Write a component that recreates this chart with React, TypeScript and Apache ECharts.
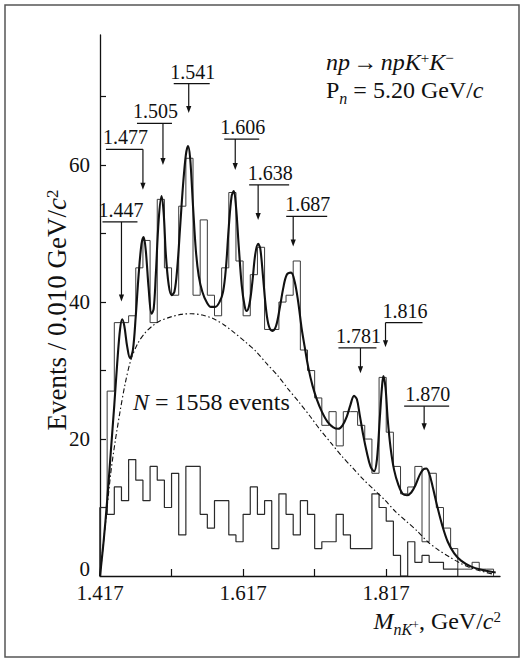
import React, { useEffect, useRef } from "react";
import * as echarts from "echarts";

// Mass axis, GeV/c^2
const MASS_MIN = 1.417;
const MASS_MAX = 1.976;
const BIN_WIDTH = 0.01;

// Events per 0.010 GeV/c^2 bin, first bin starts at MASS_MIN
const allEvents = [
  10, 27, 37, 37, 38, 45, 49, 37, 55, 45, 41, 54, 61, 41, 52, 41, 38, 45, 56, 46,
  38, 44, 48, 36, 36, 40, 41, 46, 33, 30, 26, 22, 24, 19, 24, 24, 22, 20, 15, 29,
  21, 16, 12, 13, 16, 5, 15, 10, 7, 4, 1, 1, 2, 1, 1,
];
const subsetEvents = [
  10, 9, 13, 11, 17, 14, 11, 16, 14, 10, 15, 6, 16, 16, 9, 7, 11, 11, 6, 5,
  9, 13, 9, 11, 4, 12, 9, 6, 11, 9, 4, 5, 5, 9, 6, 4, 4, 4, 12, 10,
  8, 3, 0, 5, 2, 3, 2, 2, 1, 1,
];

// Fitted spectrum (resonances + background)
const fitMass = [
  1.417, 1.422, 1.427, 1.432, 1.437, 1.441, 1.445, 1.448, 1.451, 1.455, 1.459, 1.463,
  1.467, 1.471, 1.475, 1.478, 1.481, 1.485, 1.489, 1.492, 1.495, 1.499, 1.503, 1.506,
  1.509, 1.513, 1.517, 1.521, 1.525, 1.529, 1.533, 1.537, 1.54, 1.543, 1.547, 1.551,
  1.555, 1.56, 1.566, 1.572, 1.578, 1.584, 1.589, 1.593, 1.597, 1.601, 1.604, 1.607,
  1.611, 1.615, 1.619, 1.622, 1.626, 1.63, 1.634, 1.638, 1.641, 1.645, 1.649, 1.653,
  1.658, 1.663, 1.668, 1.673, 1.678, 1.684, 1.689, 1.694, 1.699, 1.703, 1.708, 1.714,
  1.72, 1.727, 1.735, 1.743, 1.75, 1.756, 1.762, 1.767, 1.772, 1.776, 1.78, 1.785,
  1.79, 1.795, 1.8, 1.804, 1.808, 1.811, 1.813, 1.816, 1.819, 1.823, 1.828, 1.834,
  1.84, 1.846, 1.852, 1.858, 1.864, 1.869, 1.873, 1.877, 1.882, 1.888, 1.895, 1.903,
  1.912, 1.922, 1.935, 1.95, 1.97,
];
const fitEvents = [
  0, 5, 11, 18, 25, 31, 36, 37.5, 36.5, 33.5, 31.8, 33,
  38, 44, 48.5, 49.5, 47.5, 42, 38.3, 39, 44, 52, 55.5, 53,
  47, 42.5, 41, 41.5, 45, 51, 57, 61.5, 62.8, 61, 54, 47.5,
  43.8, 41.5, 40, 39.3, 39.3, 40, 41.5, 45, 51, 55.5, 56.2, 54,
  48, 42.5, 39.5, 38.7, 39.8, 43, 47, 48.5, 47.8, 43.5, 39, 36.5,
  35.8, 36.5, 39, 42, 44, 44.3, 43, 40, 36, 33.5, 30.5, 27.8,
  25.8, 24, 22.5, 21.7, 21.5, 22, 23.3, 25, 26.3, 25.8, 23.5, 20.5,
  18, 16, 15.3, 17, 23, 27.5, 29.2, 27.5, 23, 18.8, 15.5, 13.3,
  12, 11.8, 12.2, 13.3, 14.8, 15.6, 15.7, 15, 13, 10.3, 7.5, 5,
  3.3, 2.2, 1.4, 0.9, 0.5,
];

// Non-resonant background
const bgMass = [
  1.417, 1.425, 1.432, 1.438, 1.445, 1.452, 1.46, 1.47, 1.48, 1.49, 1.5, 1.515,
  1.53, 1.545, 1.56, 1.575, 1.59, 1.605, 1.62, 1.635, 1.65, 1.665, 1.68, 1.695,
  1.71, 1.725, 1.74, 1.755, 1.77, 1.785, 1.8, 1.815, 1.83, 1.845, 1.86, 1.875,
  1.89, 1.905, 1.92, 1.935, 1.95, 1.965,
];
const bgEvents = [
  0, 8, 15, 19.5, 24, 28, 31.5, 34, 35.5, 36.5, 37.2, 37.8,
  38.2, 38.3, 38.1, 37.6, 36.7, 35.5, 34.2, 32.8, 31, 29.3, 27.3, 25.4,
  23.4, 21.3, 19.4, 17.5, 15.8, 14.1, 12.6, 11.1, 9.4, 8, 6.6, 5,
  3.8, 2.8, 1.9, 1.2, 0.7, 0.3,
];

// Resonance candidates marked with arrows
const peakMasses = [1.447, 1.477, 1.505, 1.541, 1.606, 1.638, 1.687, 1.781, 1.816, 1.87];

// Axis ticks
const xTickMasses = [1.417, 1.517, 1.617, 1.717, 1.817];
const xLabelMasses = [1.417, 1.617, 1.817];
const yTickValues = [10, 20, 30, 40, 50, 60, 70];
const yLabelValues = [0, 20, 40, 60];

// Callout geometry: bar / tip heights in events, bar extent in px relative to the arrow
const calloutLayout = [
  { bar: 51.7, tip: 40.1, left: -19, right: 16 },
  { bar: 62.3, tip: 56.4, left: -37, right: 0 },
  { bar: 66.1, tip: 60.0, left: -26, right: 9 },
  { bar: 71.9, tip: 67.6, left: -15, right: 21 },
  { bar: 63.8, tip: 59.3, left: -11, right: 24 },
  { bar: 57.1, tip: 52.0, left: -9, right: 31 },
  { bar: 52.5, tip: 48.1, left: -7, right: 34 },
  { bar: 33.3, tip: 29.6, left: -22, right: 16 },
  { bar: 37.0, tip: 33.4, left: 0, right: 37 },
  { bar: 24.8, tip: 21.3, left: -20, right: 25 },
];

const SERIF = "'Liberation Serif', 'DejaVu Serif', serif";
const INK = "#111";
const ZERO_LABEL_LIFT = 1; // the "0" label sits just above the baseline

const off = (m: number) => +(m - MASS_MIN).toFixed(4);

function histogramOutline(values: number[]): [number, number][] {
  const pts: [number, number][] = [[0, 0]];
  values.forEach((v, i) => {
    pts.push([+(i * BIN_WIDTH).toFixed(4), v], [+((i + 1) * BIN_WIDTH).toFixed(4), v]);
  });
  pts.push([+(values.length * BIN_WIDTH).toFixed(4), 0]);
  return pts;
}

function rich(size: number) {
  return {
    n: { fontFamily: SERIF, fontSize: size, fill: INK, verticalAlign: "top", lineHeight: size },
    i: { fontFamily: SERIF, fontSize: size, fontStyle: "italic", fill: INK, verticalAlign: "top", lineHeight: size },
    sup: { fontFamily: SERIF, fontSize: Math.round(size * 0.62), fill: INK, verticalAlign: "top", lineHeight: Math.round(size * 0.62) },
    isub: {
      fontFamily: SERIF, fontSize: Math.round(size * 0.68), fontStyle: "italic", fill: INK,
      verticalAlign: "top", lineHeight: Math.round(size * 0.68), padding: [Math.round(size * 0.52), 0, 0, 0],
    },
    isubsup: {
      fontFamily: SERIF, fontSize: Math.round(size * 0.5), fill: INK,
      verticalAlign: "top", lineHeight: Math.round(size * 0.5), padding: [Math.round(size * 0.4), 0, 0, 0],
    },
  };
}

export default function App() {
  const ref = useRef<HTMLDivElement>(null);

  useEffect(() => {
    if (!ref.current) return;
    const chart = echarts.init(ref.current, undefined, { renderer: "svg" });

    const option: any = {
      animation: false,
      backgroundColor: "#fff",
      grid: { left: 100, right: 24, top: 35, bottom: 86 },
      xAxis: {
        type: "value",
        min: 0,
        max: off(MASS_MAX),
        axisLine: { lineStyle: { color: INK, width: 1.3 } },
        axisTick: {
          inside: true,
          length: 7,
          lineStyle: { color: INK, width: 1.2 },
          customValues: xTickMasses.map(off),
        },
        axisLabel: {
          customValues: xLabelMasses.map(off),
          formatter: (v: number) => (MASS_MIN + v).toFixed(3),
          fontFamily: SERIF,
          fontSize: 21,
          lineHeight: 16,
          color: INK,
          margin: 9,
        },
        splitLine: { show: false },
      },
      yAxis: {
        type: "value",
        min: 0,
        max: 79,
        axisLine: { show: true, lineStyle: { color: INK, width: 1.3 } },
        axisTick: {
          show: true,
          inside: true,
          length: 6,
          lineStyle: { color: INK, width: 1.2 },
          customValues: yTickValues,
        },
        axisLabel: {
          customValues: yLabelValues.map((v) => (v === 0 ? ZERO_LABEL_LIFT : v)),
          formatter: (v: number) => (v === ZERO_LABEL_LIFT ? "0" : String(v)),
          fontFamily: SERIF,
          fontSize: 21,
          lineHeight: 16,
          color: INK,
          margin: 10,
        },
        splitLine: { show: false },
      },
      series: [
        {
          type: "line",
          name: "all",
          data: histogramOutline(allEvents),
          showSymbol: false,
          lineStyle: { color: "#3a3a3a", width: 1 },
          z: 2,
        },
        {
          type: "line",
          name: "subset",
          data: histogramOutline(subsetEvents),
          showSymbol: false,
          lineStyle: { color: "#2a2a2a", width: 1.2 },
          z: 2,
        },
        {
          type: "line",
          name: "background",
          data: bgMass.map((m, i) => [off(m), bgEvents[i]]),
          showSymbol: false,
          smooth: 0.3,
          lineStyle: { color: INK, width: 1.1, type: [5, 2.5, 1.5, 2.5] },
          z: 3,
        },
        {
          type: "line",
          name: "fit",
          data: fitMass.map((m, i) => [off(m), fitEvents[i]]),
          showSymbol: false,
          smooth: 0.35,
          lineStyle: { color: INK, width: 2.1 },
          z: 4,
        },
        {
          type: "custom",
          name: "callouts",
          coordinateSystem: "cartesian2d",
          data: peakMasses.map((m) => [off(m), 0]),
          clip: false,
          z: 5,
          renderItem: (params: any, api: any) => {
            const k = params.dataIndex;
            const lay = calloutLayout[k];
            const xv = api.value(0);
            const [x, yBar] = api.coord([xv, lay.bar]);
            const [, yTip] = api.coord([xv, lay.tip]);
            const stroke = { stroke: INK, lineWidth: 1.2 };
            return {
              type: "group",
              children: [
                { type: "line", shape: { x1: x + lay.left, y1: yBar, x2: x + lay.right, y2: yBar }, style: stroke },
                { type: "line", shape: { x1: x, y1: yBar, x2: x, y2: yTip - 5 }, style: stroke },
                {
                  type: "polygon",
                  shape: { points: [[x - 2.6, yTip - 7], [x + 2.6, yTip - 7], [x, yTip]] },
                  style: { fill: INK },
                },
                {
                  type: "text",
                  x: x + (lay.left + lay.right) / 2 + 1,
                  y: yBar - 2,
                  style: {
                    text: peakMasses[k].toFixed(3),
                    fontFamily: SERIF,
                    fontSize: 20,
                    fill: INK,
                    align: "center",
                    verticalAlign: "bottom",
                  },
                },
              ],
            };
          },
        },
      ],
      graphic: [
        {
          type: "rect",
          shape: { x: 5, y: 5, width: 514, height: 652 },
          style: { fill: "none", stroke: "#555", lineWidth: 1.5 },
          silent: true,
        },
        {
          type: "text",
          x: 326,
          y: 50,
          style: { text: "{i|np} {n|→} {i|npK}{sup|+}{i|K}{sup|−}", rich: rich(24) },
        },
        {
          type: "text",
          x: 326,
          y: 78,
          style: { text: "{n|P}{isub|n}{n| = 5.20 GeV/}{i|c}", rich: rich(24) },
        },
        {
          type: "text",
          x: 133,
          y: 390,
          style: { text: "{i|N}{n| = 1558 events}", rich: rich(24) },
        },
        {
          type: "text",
          x: 57,
          y: 310,
          rotation: Math.PI / 2,
          style: {
            text: "{n|Events / 0.010 GeV/}{i|c}{sup|2}",
            rich: rich(27),
            align: "center",
            verticalAlign: "middle",
          },
        },
        {
          type: "text",
          x: 501,
          y: 609,
          style: {
            text: "{i|M}{isub|nK}{isubsup|+}{n|, GeV/}{i|c}{sup|2}",
            rich: rich(24),
            align: "right",
          },
        },
      ],
    };

    chart.setOption(option);
    return () => chart.dispose();
  }, []);

  return (
    <div
      ref={ref}
      style={{ position: "fixed", left: 0, top: 0, width: 524, height: 662, background: "#fff" }}
    />
  );
}
